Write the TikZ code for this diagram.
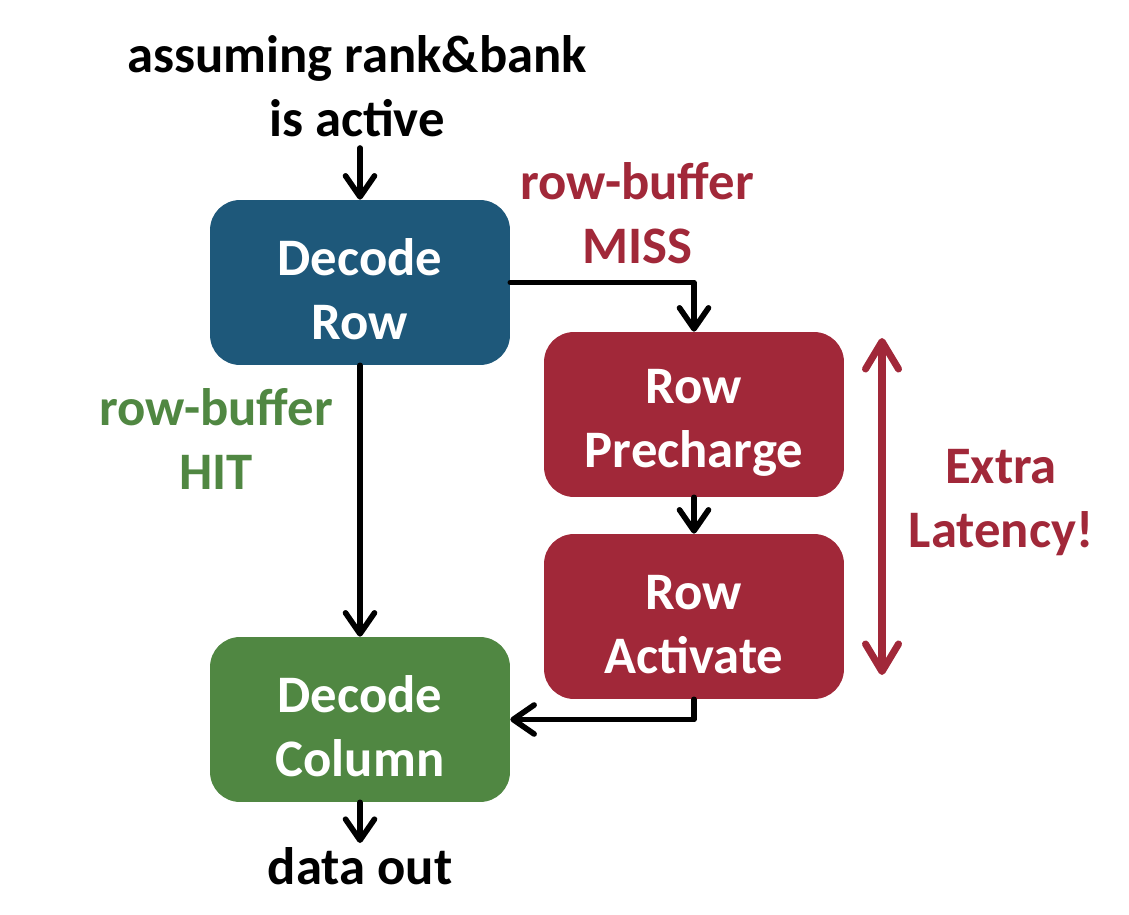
\documentclass[tikz,border=0pt]{standalone}
\usepackage{fontspec}
\setmainfont{Carlito}
\usetikzlibrary{arrows.meta}
\definecolor{rowblue}{RGB}{30,88,122}
\definecolor{missred}{RGB}{161,40,57}
\definecolor{hitgreen}{RGB}{80,135,66}
\newcommand{\bigtext}{\fontsize{30}{36.4}\selectfont\bfseries}
% extra height on the first line pushes the two text lines a little lower in a box
\newcommand{\topgap}{\rule{0pt}{29pt}}
\tikzset{
  stagebox/.style={rounded corners=0.6cm, minimum width=6cm, minimum height=3.3cm,
    inner sep=0pt, align=center, text=white, font=\bigtext},
  lbl/.style={align=center, inner sep=0pt, font=\bigtext},
  arr/.style={line width=3.2pt, line cap=round, line join=round,
    -{Straight Barb[round,length=4.2mm,width=5.8mm]}},
  span/.style={line width=4pt, color=missred, line cap=round,
    {Straight Barb[round,length=5.5mm,width=6.6mm]}-{Straight Barb[round,length=5.5mm,width=6.6mm]}}
}
\begin{document}
\begin{tikzpicture}[x=0.02cm,y=-0.02cm]
  \useasboundingbox (0,0) rectangle (1129,915);

  % processing stages
  \node[stagebox, fill=rowblue]  (drow)  at (360,282.5) {\topgap Decode\\Row};
  \node[stagebox, fill=missred]  (prech) at (694,414.5) {\topgap Row\\Precharge};
  \node[stagebox, fill=missred]  (act)   at (694,616.5) {\topgap Row\\Activate};
  \node[stagebox, fill=hitgreen] (dcol)  at (360,719.5) {\topgap Decode\\Column};

  % labels
  \node[lbl] (title) at (357,86) {assuming rank\&bank\\is active};
  \node[lbl, text=missred] (miss) at (637,213) {row-buffer\\MISS};
  \node[lbl, text=hitgreen] (hit) at (216,439) {row-buffer\\HIT};
  \node[lbl, text=missred] (lat) at (1001,503) {Extra\\Latency!};
  \node[lbl] (out) at (360,866) {data out};

  % free ends of the connectors
  \coordinate (inbeg) at (360,148);
  \coordinate (outend) at (360,843);
  \coordinate (latop) at (882,338);
  \coordinate (latbot) at (882,675);

  % connectors
  \draw[arr] (inbeg) -- (drow.north);
  \draw[arr] (drow.east) -| (prech.north);
  \draw[arr] (prech.south) -- (act.north);
  \draw[arr] (act.south) |- (dcol.east);
  \draw[arr] (drow.south) -- (dcol.north);
  \draw[arr] (dcol.south) -- (outend);
  \draw[span] (latop) -- (latbot);
\end{tikzpicture}
\end{document}
